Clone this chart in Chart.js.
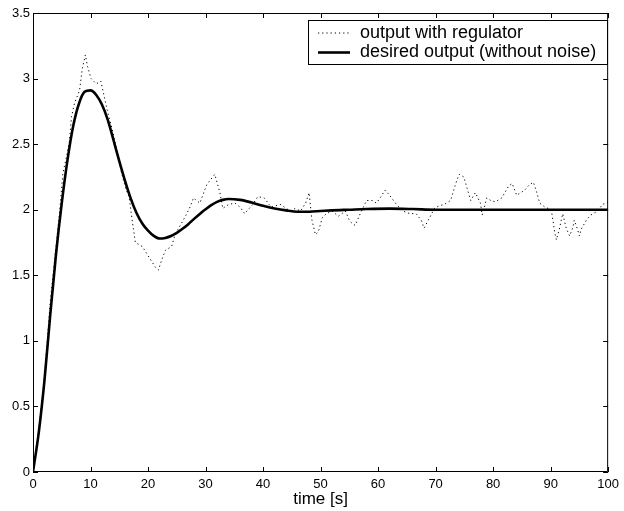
<!DOCTYPE html>
<html>
<head>
<meta charset="utf-8">
<script src="https://cdn.jsdelivr.net/npm/chart.js@4.4.0/dist/chart.umd.min.js"></script>
<style>
html,body{margin:0;padding:0;background:#fff;}
#wrap{width:624px;height:511px;}
</style>
</head>
<body>
<div id="wrap"><canvas id="c" width="624" height="511"></canvas></div>
<script>
const seriesLabels = ['output with regulator', 'desired output (without noise)'];
const xTitle = 'time [s]';
const xTicks = [0, 10, 20, 30, 40, 50, 60, 70, 80, 90, 100];
const yTicks = [0, 0.5, 1, 1.5, 2, 2.5, 3, 3.5];

const desiredTime = [0,1,2,3,4,5,6,7,8,9,10,11,12,13,14,15,16,17,18,19,20,21,22,23,24,25,26,27,28,29,30,31,32,33,34,36,38,40,42,44,46,48,50,52,55,58,62,66,70,80,90,100];
const desiredOutput = [0,0.30,0.70,1.20,1.66,2.05,2.38,2.64,2.81,2.90,2.91,2.875,2.80,2.685,2.53,2.37,2.22,2.085,1.975,1.895,1.84,1.80,1.78,1.785,1.80,1.824,1.855,1.89,1.93,1.968,2.003,2.035,2.06,2.075,2.082,2.075,2.055,2.03,2.01,1.995,1.985,1.985,1.99,1.995,2.0,2.005,2.008,2.005,2.0,2.0,2.0,2.0];

const regulatorTime = [0,1,2,3,3.7,4.6,5.2,5.8,6.3,6.7,7.2,8.1,8.55,9.1,9.5,10.1,11,11.8,12.4,13,13.8,14.6,15.4,16.2,16.7,17.3,17.8,19,20,21.3,21.8,22.4,23,24.1,24.7,25.6,26.5,27.3,27.9,29,30.2,31.6,32.5,33,34,35.1,36,36.8,38.2,39.1,40.2,41.4,42.2,43.1,44,44.8,45.6,46.5,47.4,48,48.5,49.1,49.6,50.3,51,52,53.1,54.3,55.1,56,57.1,58,59,59.7,60.5,61.2,62,63.2,64.3,65.5,66.6,67.5,68,68.6,69.8,70.6,71.5,72.6,73.5,74.1,74.9,75.5,76.1,76.9,77.8,78.1,78.9,79.6,80.4,81.5,82.7,83.3,84.1,84.8,85.5,86.3,87,87.6,88.1,89,90.1,90.4,90.7,91,91.5,92.1,92.7,93.3,93.9,94.1,94.6,95,95.3,96.2,97,98.2,99,99.6,100];
const regulatorOutput = [0,0.33,0.72,1.30,1.59,1.97,2.28,2.40,2.51,2.71,2.81,2.91,3.07,3.18,3.09,3.00,2.96,2.98,2.86,2.74,2.61,2.45,2.28,2.15,2.10,1.90,1.75,1.72,1.65,1.56,1.54,1.62,1.69,1.72,1.81,1.88,1.95,2.02,2.09,2.05,2.19,2.27,2.13,2.01,2.04,2.05,2.02,1.97,2.04,2.10,2.09,2.02,2.03,2.04,2.01,1.99,2.01,1.99,2.05,2.13,1.92,1.81,1.83,1.94,1.97,1.99,1.95,1.99,1.91,1.88,1.99,2.07,2.07,2.05,2.10,2.15,2.11,2.04,1.99,1.97,1.97,1.92,1.86,1.91,2.01,2.03,2.04,2.07,2.20,2.27,2.25,2.16,2.07,2.13,2.05,1.96,2.09,2.07,2.06,2.09,2.18,2.20,2.11,2.13,2.15,2.19,2.21,2.13,2.05,2.02,2.00,1.92,1.83,1.77,1.85,1.97,1.86,1.80,1.87,1.92,1.86,1.80,1.85,1.92,1.96,1.99,2.04,2.05,2.06];

const FONT = '"Liberation Sans", Arial, Helvetica, sans-serif';

const toPoints = (xs, ys) => xs.map((x, i) => ({x: x, y: ys[i]}));

const frameTicks = {
  id: 'frameTicks',
  afterDatasetsDraw(chart) {
    const {ctx, chartArea: a, scales} = chart;
    ctx.save();
    ctx.strokeStyle = '#000';
    ctx.lineWidth = 1;
    ctx.beginPath();
    ctx.rect(a.left + 0.5, a.top + 0.5, a.right - a.left - 1, a.bottom - a.top - 1);
    ctx.stroke();
    const L = 5;
    ctx.beginPath();
    xTicks.forEach(v => {
      const px = Math.round(scales.x.getPixelForValue(v)) + 0.5;
      ctx.moveTo(px, a.bottom); ctx.lineTo(px, a.bottom - L);
      ctx.moveTo(px, a.top); ctx.lineTo(px, a.top + L);
    });
    yTicks.forEach(v => {
      const py = Math.round(scales.y.getPixelForValue(v)) + 0.5;
      ctx.moveTo(a.left, py); ctx.lineTo(a.left + L, py);
      ctx.moveTo(a.right, py); ctx.lineTo(a.right - L, py);
    });
    ctx.stroke();
    ctx.restore();
  },
  afterDraw(chart) {
    const ctx = chart.ctx;
    const bx = 308, by = 20, bw = 299, bh = 44;
    ctx.save();
    ctx.fillStyle = '#fff';
    ctx.fillRect(bx, by, bw, bh);
    ctx.strokeStyle = '#000';
    ctx.lineWidth = 1;
    ctx.strokeRect(bx + 0.5, by + 0.5, bw, bh);
    const rows = [33, 52.5];
    chart.data.datasets.forEach((ds, i) => {
      ctx.beginPath();
      ctx.strokeStyle = ds.borderColor;
      ctx.lineWidth = ds.borderWidth;
      ctx.setLineDash(ds.borderDash || []);
      ctx.moveTo(318, rows[i]);
      ctx.lineTo(350, rows[i]);
      ctx.stroke();
      ctx.setLineDash([]);
      ctx.fillStyle = '#000';
      ctx.font = '18px ' + FONT;
      ctx.textBaseline = 'middle';
      ctx.textAlign = 'left';
      ctx.fillText(ds.label, 360, rows[i]);
    });
    ctx.restore();
  }
};

new Chart(document.getElementById('c'), {
  type: 'line',
  data: {
    datasets: [
      {
        label: seriesLabels[0],
        data: toPoints(regulatorTime, regulatorOutput),
        borderColor: '#000',
        borderWidth: 1,
        borderDash: [1.2, 3],
        pointRadius: 0,
        tension: 0,
        fill: false,
        order: 1
      },
      {
        label: seriesLabels[1],
        data: toPoints(desiredTime, desiredOutput),
        borderColor: '#000',
        borderWidth: 2.6,
        pointRadius: 0,
        cubicInterpolationMode: 'monotone',
        fill: false,
        order: 0
      }
    ]
  },
  options: {
    responsive: false,
    devicePixelRatio: 1,
    animation: false,
    events: [],
    layout: {padding: {top: 13, right: 10, left: 0, bottom: 0}},
    plugins: {legend: {display: false}, tooltip: {enabled: false}},
    scales: {
      x: {
        type: 'linear',
        min: 0, max: 100,
        afterBuildTicks: s => { s.ticks = xTicks.map(v => ({value: v})); },
        afterFit: s => { s.height = 39; },
        grid: {display: false, drawTicks: false},
        border: {display: false},
        ticks: {color: '#000', font: {family: FONT, size: 13}, padding: 5, maxRotation: 0, autoSkip: false, callback: v => String(v)},
        title: {display: true, text: xTitle, color: '#000', font: {family: FONT, size: 17}, padding: {top: 0, bottom: 1}}
      },
      y: {
        type: 'linear',
        min: 0, max: 3.5,
        afterBuildTicks: s => { s.ticks = yTicks.map(v => ({value: v})); },
        afterFit: s => { s.width = 33; },
        grid: {display: false, drawTicks: false},
        border: {display: false},
        ticks: {color: '#000', font: {family: FONT, size: 13}, padding: 3, autoSkip: false, callback: v => String(v)}
      }
    }
  },
  plugins: [frameTicks]
});
</script>
</body>
</html>
